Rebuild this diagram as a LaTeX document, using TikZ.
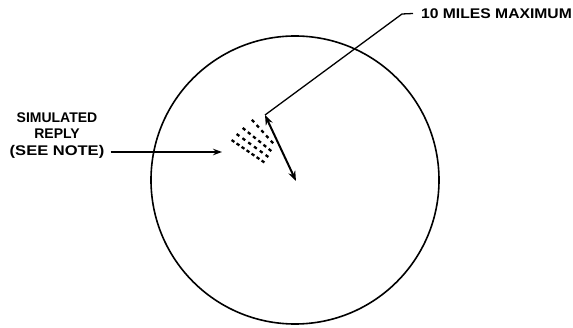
\documentclass[tikz,border=0pt]{standalone}
\usepackage{graphicx}
\usepackage{fontspec}
\setmainfont{Liberation Sans}
\usetikzlibrary{arrows.meta}
\tikzset{
 lbl/.style={font=\bfseries\fontsize{14}{16.4}\selectfont,inner sep=0pt,align=center},
 leader/.style={line width=1.3pt},
 bigarrow/.style={line width=2pt,{Stealth[length=10pt,width=7.5pt]}-{Stealth[length=10pt,width=7.5pt]}},
 dashmark/.style={line width=2.3pt}
}
\begin{document}
\begin{tikzpicture}[x=1pt,y=-1pt]
\useasboundingbox (0,0) rectangle (573,328);
\fill[white] (0,0) rectangle (573,328);
\node[draw,circle,line width=1.6pt,minimum size=288pt,inner sep=0pt] (scope) at (295,180) {};
\node[lbl] (miles) at (496.5,13.5) {\scalebox{1.12}[1]{10 MILES MAXIMUM}};
\node[lbl] (reply) at (57,135.5) {SIMULATED\\REPLY\\\scalebox{1.18}[1]{(SEE NOTE)}};
\coordinate (a) at (265,115);
\coordinate (b) at (296,181);
\coordinate (r) at (222,152);
\coordinate (s) at (110.6,152);
\coordinate (k) at (402,14);
\coordinate (e) at (413,13.5);
\draw[leader] (e) -- (k) -- (a);
\draw[leader,-{Stealth[length=9pt,width=6.5pt]}] (s) -- (r);
\draw[bigarrow] (a) -- (b);
% rows of dashes: x0/y0 -> x1/y1 / count
\foreach \xa/\ya/\xb/\yb/\n in {253/121/272/142/5, 244/129/270/150/6, 238/135/267/156/6, 233/141/263/161.5/7}{
 \pgfmathsetmacro{\dx}{(\xb-\xa)}
 \pgfmathsetmacro{\dy}{(\yb-\ya)}
 \pgfmathsetmacro{\len}{sqrt(\dx*\dx+\dy*\dy)}
 \pgfmathsetmacro{\ux}{\dx/\len*1.7}
 \pgfmathsetmacro{\uy}{\dy/\len*1.7}
 \pgfmathtruncatemacro{\last}{\n-1}
 \foreach \i in {0,...,\last}{
  \pgfmathsetmacro{\cx}{\xa+\dx*\i/\last}
  \pgfmathsetmacro{\cy}{\ya+\dy*\i/\last}
  \draw[dashmark] ({\cx-\ux},{\cy-\uy}) -- ({\cx+\ux},{\cy+\uy});
 }
}
\end{tikzpicture}
\end{document}
